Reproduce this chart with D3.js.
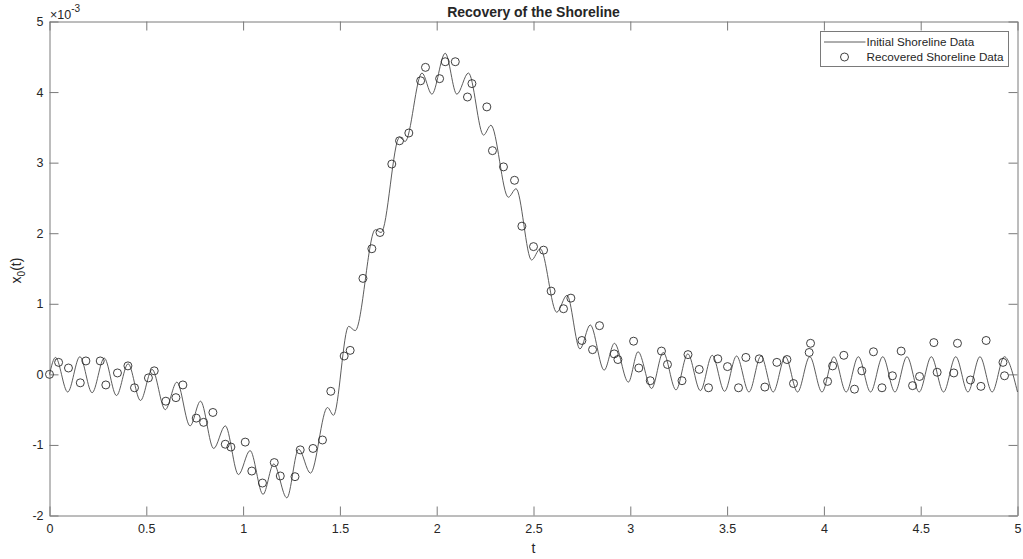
<!DOCTYPE html>
<html>
<head>
<meta charset="utf-8">
<script src="https://cdn.jsdelivr.net/npm/d3@7"></script>
<style>
  body { margin: 0; background: #fff; }
  text { font-family: "Liberation Sans", Arial, Helvetica, sans-serif; fill: #262626; }
</style>
</head>
<body>
<div id="chart"></div>
<script>
// initial shoreline curve: points (t, value in 1e-3 units)
var lineT = [0, 0.031, 0.094, 0.157, 0.220, 0.283, 0.346, 0.406, 0.470, 0.530,
  0.598, 0.658, 0.726, 0.780, 0.848, 0.908, 0.976, 1.036, 1.103, 1.158,
  1.226, 1.287, 1.348, 1.436, 1.467, 1.545, 1.579, 1.683, 1.713, 1.808,
  1.837, 1.924, 1.975, 2.044, 2.104, 2.164, 2.242, 2.280, 2.370, 2.410,
  2.490, 2.535, 2.620, 2.673, 2.740, 2.793, 2.865, 2.918, 2.990, 3.040,
  3.110, 3.170, 3.236, 3.297, 3.362, 3.423, 3.487, 3.549, 3.613, 3.675,
  3.738, 3.801, 3.864, 3.927, 3.990, 4.052, 4.115, 4.178, 4.241, 4.304,
  4.367, 4.429, 4.492, 4.555, 4.618, 4.681, 4.744, 4.806, 4.869, 4.932, 5.0];
var lineV = [0, 0.24, -0.25, 0.25, -0.26, 0.23, -0.30, 0.15, -0.37, 0.07,
  -0.50, -0.11, -0.73, -0.38, -1.05, -0.73, -1.42, -1.08, -1.70, -1.27,
  -1.75, -1.06, -1.40, -0.47, -0.58, 0.68, 0.62, 2.05, 2.01, 3.36,
  3.30, 4.27, 3.97, 4.55, 3.97, 4.27, 3.39, 3.53, 2.51, 2.63,
  1.62, 1.78, 0.88, 1.12, 0.36, 0.70, 0.06, 0.44, -0.11, 0.32,
  -0.20, 0.31, -0.22, 0.29, -0.23, 0.27, -0.24, 0.26, -0.25, 0.26,
  -0.25, 0.25, -0.25, 0.25, -0.25, 0.25, -0.25, 0.25, -0.25, 0.25,
  -0.25, 0.25, -0.25, 0.25, -0.25, 0.25, -0.25, 0.25, -0.25, 0.25, -0.25];

// recovered shoreline points
var recT = [0.000, 0.047, 0.098, 0.159, 0.188, 0.262, 0.291, 0.351, 0.405, 0.439,
  0.511, 0.541, 0.601, 0.653, 0.689, 0.758, 0.796, 0.844, 0.908, 0.937,
  1.011, 1.045, 1.100, 1.161, 1.192, 1.268, 1.295, 1.361, 1.410, 1.453,
  1.522, 1.553, 1.619, 1.665, 1.707, 1.768, 1.808, 1.856, 1.917, 1.942,
  2.015, 2.044, 2.096, 2.159, 2.182, 2.259, 2.288, 2.345, 2.402, 2.440,
  2.500, 2.552, 2.591, 2.655, 2.693, 2.750, 2.805, 2.841, 2.917, 2.936,
  3.017, 3.044, 3.103, 3.161, 3.192, 3.267, 3.298, 3.356, 3.404, 3.452,
  3.502, 3.559, 3.597, 3.666, 3.695, 3.757, 3.809, 3.843, 3.924, 3.931,
  4.019, 4.045, 4.103, 4.158, 4.196, 4.256, 4.300, 4.354, 4.399, 4.458,
  4.494, 4.568, 4.585, 4.671, 4.690, 4.757, 4.811, 4.838, 4.925, 4.933];
var recV = [0.00, 0.17, 0.09, -0.12, 0.19, 0.19, -0.15, 0.02, 0.12, -0.19,
  -0.05, 0.05, -0.38, -0.33, -0.15, -0.62, -0.68, -0.54, -0.99, -1.03,
  -0.96, -1.37, -1.54, -1.25, -1.44, -1.45, -1.07, -1.05, -0.93, -0.24,
  0.26, 0.34, 1.36, 1.78, 2.01, 2.98, 3.31, 3.42, 4.16, 4.35,
  4.19, 4.43, 4.43, 3.93, 4.12, 3.79, 3.17, 2.94, 2.75, 2.10,
  1.81, 1.76, 1.18, 0.93, 1.08, 0.48, 0.35, 0.69, 0.29, 0.21,
  0.47, 0.09, -0.09, 0.33, 0.14, -0.09, 0.28, 0.07, -0.19, 0.22,
  0.11, -0.19, 0.24, 0.22, -0.18, 0.17, 0.21, -0.13, 0.31, 0.44,
  -0.10, 0.12, 0.27, -0.21, 0.05, 0.32, -0.19, -0.02, 0.33, -0.16,
  -0.03, 0.45, 0.03, 0.02, 0.44, -0.08, -0.17, 0.48, 0.17, -0.02];

var xTicks = [0, 0.5, 1, 1.5, 2, 2.5, 3, 3.5, 4, 4.5, 5];
var yTicks = [-2, -1, 0, 1, 2, 3, 4, 5];
var legendLabels = ["Initial Shoreline Data", "Recovered Shoreline Data"];

// dimensions
var W = 1023, H = 559;
var margin = {top: 21.5, right: 5.5, bottom: 43.5, left: 49.5};
var width = W - margin.left - margin.right;
var height = H - margin.top - margin.bottom;
var axisColor = "#7a7a7a";

var svg = d3.select("#chart")
    .append("svg")
    .attr("width", W)
    .attr("height", H);

var g = svg.append("g")
    .attr("transform", "translate(" + margin.left + "," + margin.top + ")");

var x = d3.scaleLinear().domain([0, 5]).range([0, width]);
var y = d3.scaleLinear().domain([-2, 5]).range([height, 0]);

// axes, ticks pointing inward, mirrored on top / right
function styleAxis(sel) {
    sel.select(".domain").attr("stroke", axisColor);
    sel.selectAll(".tick line").attr("stroke", axisColor);
    sel.selectAll(".tick text").style("font-size", "12.5px").attr("fill", "#262626");
}

g.append("g")
    .attr("transform", "translate(0," + height + ")")
    .call(d3.axisBottom(x).tickValues(xTicks).tickSizeInner(-9).tickSizeOuter(0).tickPadding(9)
        .tickFormat(function (d) { return d; }))
    .call(styleAxis);

g.append("g")
    .call(d3.axisTop(x).tickValues(xTicks).tickSizeInner(-9).tickSizeOuter(0).tickFormat(""))
    .call(styleAxis);

g.append("g")
    .call(d3.axisLeft(y).tickValues(yTicks).tickSizeInner(-9).tickSizeOuter(0).tickPadding(6)
        .tickFormat(function (d) { return d; }))
    .call(styleAxis);

g.append("g")
    .attr("transform", "translate(" + width + ",0)")
    .call(d3.axisRight(y).tickValues(yTicks).tickSizeInner(-9).tickSizeOuter(0).tickFormat(""))
    .call(styleAxis);

// the curve
var linePts = lineT.map(function (t, i) { return [t, lineV[i]]; });
var line = d3.line()
    .x(function (d) { return x(d[0]); })
    .y(function (d) { return y(d[1]); })
    .curve(d3.curveMonotoneX);

g.append("path")
    .datum(linePts)
    .attr("d", line)
    .attr("fill", "none")
    .attr("stroke", "#4a4a4a")
    .attr("stroke-width", 0.9);

// recovered points
g.selectAll(".dot")
    .data(recT.map(function (t, i) { return [t, recV[i]]; }))
    .enter().append("circle")
    .attr("class", "dot")
    .attr("cx", function (d) { return x(d[0]); })
    .attr("cy", function (d) { return y(d[1]); })
    .attr("r", 4)
    .attr("fill", "none")
    .attr("stroke", "#2a2a2a")
    .attr("stroke-width", 0.9);

// exponent label
var expo = svg.append("text")
    .attr("x", 50)
    .attr("y", 19)
    .style("font-size", "12.5px");
expo.append("tspan").text("\u00d710");
expo.append("tspan").attr("dy", -7).style("font-size", "10px").text("-3");

// title
svg.append("text")
    .attr("x", margin.left + width / 2)
    .attr("y", 16.5)
    .attr("text-anchor", "middle")
    .style("font-size", "14px")
    .style("font-weight", "bold")
    .attr("fill", "#000")
    .text("Recovery of the Shoreline");

// axis labels
svg.append("text")
    .attr("x", margin.left + width / 2)
    .attr("y", 552.5)
    .attr("text-anchor", "middle")
    .style("font-size", "14px")
    .text("t");

var ylab = svg.append("text")
    .attr("transform", "translate(21," + (margin.top + height / 2 + 2) + ") rotate(-90)")
    .attr("text-anchor", "middle")
    .style("font-size", "14px");
ylab.append("tspan").text("x");
ylab.append("tspan").attr("dy", 4).style("font-size", "10px").text("0");
ylab.append("tspan").attr("dy", -4).text("(t)");

// legend
var leg = svg.append("g").attr("transform", "translate(820.5,31.5)");
leg.append("rect")
    .attr("width", 188)
    .attr("height", 35)
    .attr("fill", "#fff")
    .attr("stroke", axisColor);
leg.append("line")
    .attr("x1", 3.5).attr("x2", 45)
    .attr("y1", 10.5).attr("y2", 10.5)
    .attr("stroke", "#4a4a4a")
    .attr("stroke-width", 0.9);
leg.append("circle")
    .attr("cx", 24)
    .attr("cy", 25.5)
    .attr("r", 4)
    .attr("fill", "none")
    .attr("stroke", "#2a2a2a")
    .attr("stroke-width", 0.9);
leg.selectAll(".legtext")
    .data(legendLabels)
    .enter().append("text")
    .attr("class", "legtext")
    .attr("x", 46)
    .attr("y", function (d, i) { return 14.5 + i * 15; })
    .style("font-size", "11.7px")
    .text(function (d) { return d; });
</script>
</body>
</html>
